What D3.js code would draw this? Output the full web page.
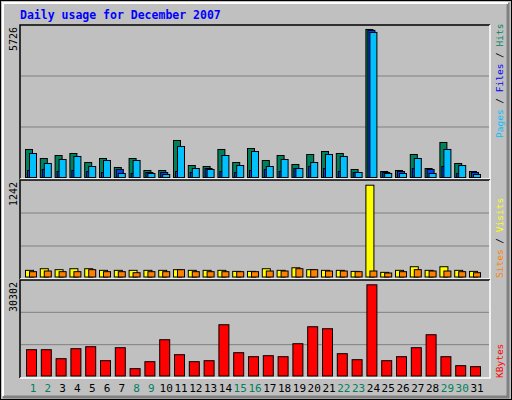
<!DOCTYPE html>
<html><head><meta charset="utf-8">
<script src="https://cdn.jsdelivr.net/npm/d3@7/dist/d3.min.js"></script>
<style>body{margin:0;background:#fff}</style></head>
<body><svg id="c" width="512" height="400"></svg>
<script>
const days = d3.range(1,32);
const weekend = [1,2,8,9,15,16,22,23,29,30];
const hits  = [1084,735,851,929,581,735,387,735,271,271,1432,464,426,1084,581,1122,658,851,503,890,1006,929,310,5726,232,271,890,348,1355,542,232];
const files = [929,542,697,813,426,658,155,658,155,116,1200,348,310,851,464,1006,426,697,348,581,890,813,194,5612,155,155,735,155,1084,464,116];
const pages = [271,310,232,271,232,194,310,155,194,194,232,194,348,232,194,271,310,232,348,426,348,232,194,5690,194,232,348,310,426,155,194];
const visits= [90,112,99,112,112,90,90,90,90,90,99,90,90,90,76,76,112,90,125,99,90,90,76,1242,63,90,139,90,139,90,76];
const sites = [72,81,72,72,99,72,72,58,72,72,99,72,72,72,72,72,81,81,112,99,81,81,72,81,54,72,99,81,81,72,58];
const kbytes= [8737,8737,5751,9069,9733,5088,9401,2433,4756,12055,7078,4756,5088,17032,7742,6415,6746,6415,10728,16368,15705,7410,5419,30302,5088,6415,9401,13714,6415,3428,3097];

const svg = d3.select("#c");
const mono = "DejaVu Sans Mono, monospace";
svg.append("rect").attr("x",0.5).attr("y",0.5).attr("width",511).attr("height",399).attr("fill","#c0c0c0").attr("stroke","#000");
svg.append("path").attr("d","M508,3V397H3").attr("fill","none").attr("stroke","#808080").attr("stroke-width",3);
svg.append("path").attr("d","M3,396V3H508").attr("fill","none").attr("stroke","#fff").attr("stroke-width",2);

svg.append("text").attr("x",20).attr("y",19).attr("fill","#0000ff").attr("font-family",mono)
  .attr("font-weight","bold").attr("font-size",11.5).text("Daily usage for December 2007");

const x = d3.scaleBand().domain(days).range([25,25+14.8*31]).paddingInner(0);

function panel(y0,y1){
  svg.append("rect").attr("x",20).attr("y",y0).attr("width",470).attr("height",y1-y0).attr("fill","#c0c0c0");
  const g=d3.scaleLinear().domain([0,3]).range([y1,y0]);
  [1,2].forEach(i=>svg.append("line").attr("x1",21).attr("x2",489).attr("y1",g(i)).attr("y2",g(i)).attr("stroke","#808080"));
}
function frame(y0,y1){
  svg.append("path").attr("d",`M20,${y1}V${y0}H490`).attr("fill","none").attr("stroke","#000").attr("stroke-width",1.5);
  svg.append("path").attr("d",`M20,${y1}H490V${y0}`).attr("fill","none").attr("stroke","#fff").attr("stroke-width",1.5);
}
panel(25,178); panel(180,279); panel(280,377);

function bars(data,y,off,w,color){
  svg.append("g").selectAll("rect").data(data).join("rect")
    .attr("x",(d,i)=>x(days[i])+off+0.5).attr("width",w)
    .attr("y",d=>y(d)+0.5).attr("height",d=>y(0)-y(d))
    .attr("fill",color).attr("stroke","#000").attr("stroke-width",1);
}
const y1 = d3.scaleLinear().domain([0,5880]).range([177,25]);
bars(hits,y1,0,7,"#00805c"); bars(pages,y1,2,7,"#0040ff"); bars(files,y1,4,7,"#00c0ff");
const y2 = d3.scaleLinear().domain([0,1242]).range([276.5,184.7]);
bars(visits,y2,0,8,"#ffff00"); bars(sites,y2,4,7,"#ff8000");
const y3 = d3.scaleLinear().domain([0,30302]).range([375.5,284.3]);
bars(kbytes,y3,1,10,"#ff0000");
frame(25,179); frame(180,279); frame(280,378);

svg.append("g").selectAll("text").data(days).join("text")
  .attr("x",d=>x(d)+8).attr("y",392).attr("text-anchor","middle").attr("font-family",mono).attr("font-size",11)
  .attr("fill",d=>weekend.includes(d)?"#008060":"#000").text(d=>d);

function ylab(t,ytop){
  svg.append("text").attr("transform",`translate(17,${ytop}) rotate(-90)`).attr("text-anchor","end")
    .attr("font-family",mono).attr("font-size",10).text(t);
}
ylab(d3.max(hits),27); ylab(d3.max(visits),182); ylab(d3.max(kbytes),282);

function rlab(parts,ybot){
  const t=svg.append("text").attr("transform",`translate(503,${ybot}) rotate(-90)`)
    .attr("font-family",mono).attr("font-size",9.5);
  parts.forEach(([s,c])=>t.append("tspan").attr("fill",c).text(s));
}
rlab([["Pages","#00c0ff"],[" / ","#000"],["Files","#0000ff"],[" / ","#000"],["Hits","#008060"]],138);
rlab([["Sites","#ff8000"],[" / ","#000"],["Visits","#ffff00"]],278);
rlab([["KBytes","#ff0000"]],378);
</script></body></html>
